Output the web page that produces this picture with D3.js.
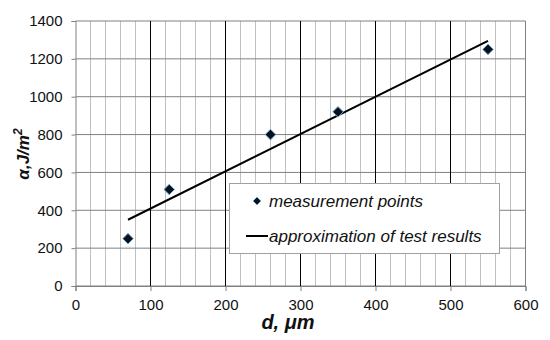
<!DOCTYPE html>
<html><head><meta charset="utf-8">
<script src="https://cdn.jsdelivr.net/npm/d3@7"></script>
<style>body{margin:0;background:#fff;}svg{display:block;font-family:"Liberation Sans",Arial,sans-serif;}</style>
</head><body>
<svg id="c" width="550" height="340"></svg>
<script>
const dValues = [70, 125, 260, 350, 550];
const alphaValues = [250, 510, 800, 920, 1250];
const fitD = [70, 550];
const fitAlpha = [350, 1295];
const xTicks = [0, 100, 200, 300, 400, 500, 600];
const yTicks = [0, 200, 400, 600, 800, 1000, 1200, 1400];
const legendLabels = ["measurement points", "approximation of test results"];

const svg = d3.select("#c");
const L = 75.5, R = 525.5, T = 21, B = 286;
const x = d3.scaleLinear().domain([0, 600]).range([L, R]);
const y = d3.scaleLinear().domain([0, 1400]).range([B, T]);

// minor vertical grid
svg.append("g").selectAll("line").data(d3.range(20, 600, 20).filter(v => v % 100 !== 0))
  .join("line").attr("x1", d => x(d)).attr("x2", d => x(d)).attr("y1", T).attr("y2", B)
  .attr("stroke", "#c0c0c0").attr("stroke-width", 1);
// horizontal grid
svg.append("g").selectAll("line").data(yTicks)
  .join("line").attr("x1", L).attr("x2", R).attr("y1", d => y(d)).attr("y2", d => y(d))
  .attr("stroke", "#808080").attr("stroke-width", 1);
// major vertical grid
svg.append("g").selectAll("line").data(xTicks.filter(v => v > 0 && v < 600))
  .join("line").attr("x1", d => x(d)).attr("x2", d => x(d)).attr("y1", T).attr("y2", B)
  .attr("stroke", "#000").attr("stroke-width", 1);
svg.append("line").attr("x1", R).attr("x2", R).attr("y1", T).attr("y2", B).attr("stroke", "#808080");

// axes
const xa = svg.append("g").attr("transform", `translate(0,${B})`)
  .call(d3.axisBottom(x).tickValues(xTicks).tickFormat(d3.format("d")).tickSize(5).tickPadding(8));
const ya = svg.append("g").attr("transform", `translate(${L},0)`)
  .call(d3.axisLeft(y).tickValues(yTicks).tickFormat(d3.format("d")).tickSize(4).tickPadding(9));
[xa, ya].forEach(a => {
  a.select(".domain").attr("stroke", "#808080");
  a.selectAll(".tick line").attr("stroke", "#808080");
  a.selectAll("text").attr("font-size", 15).attr("fill", "#111").attr("font-family", "Liberation Sans, Arial, sans-serif");
});

// fit line
svg.append("path").datum(fitD.map((d, i) => [d, fitAlpha[i]]))
  .attr("d", d3.line().x(d => x(d[0])).y(d => y(d[1])))
  .attr("stroke", "#000").attr("stroke-width", 2).attr("fill", "none");

// points
const diamond = d3.symbol().type(d3.symbolDiamond2).size(72);
svg.append("g").selectAll("path").data(dValues.map((d, i) => [d, alphaValues[i]]))
  .join("path").attr("d", diamond)
  .attr("transform", d => `translate(${x(d[0])},${y(d[1])})`)
  .attr("fill", "#06121f").attr("stroke", "#7fb2d6").attr("stroke-width", 1);

// legend
const lg = svg.append("g");
lg.append("rect").attr("x", 229.5).attr("y", 183.5).attr("width", 270).attr("height", 70)
  .attr("fill", "#fff").attr("stroke", "#a0a0a0");
lg.append("path").attr("d", d3.symbol().type(d3.symbolDiamond2).size(40))
  .attr("transform", "translate(257,201)").attr("fill", "#06121f").attr("stroke", "#7fb2d6").attr("stroke-width", 0.8);
lg.append("line").attr("x1", 246).attr("x2", 268).attr("y1", 236).attr("y2", 236).attr("stroke", "#000").attr("stroke-width", 2);
lg.selectAll("text").data(legendLabels).join("text")
  .attr("x", 269).attr("y", (d, i) => i === 0 ? 207 : 242)
  .attr("font-size", 17).attr("font-style", "italic").attr("fill", "#111").text(d => d);

// axis titles
svg.append("text").attr("x", 288).attr("y", 329).attr("text-anchor", "middle")
  .attr("font-size", 20).attr("font-weight", "bold").attr("font-style", "italic").attr("fill", "#111")
  .text("d, μm");
const yl = svg.append("text").attr("transform", "translate(29,154) rotate(-90)").attr("text-anchor", "middle")
  .attr("font-size", 17).attr("font-weight", "bold").attr("font-style", "italic").attr("fill", "#111");
yl.append("tspan").text("α,J/m");
yl.append("tspan").attr("dy", -7).attr("font-size", 12).text("2");
</script>
</body></html>
